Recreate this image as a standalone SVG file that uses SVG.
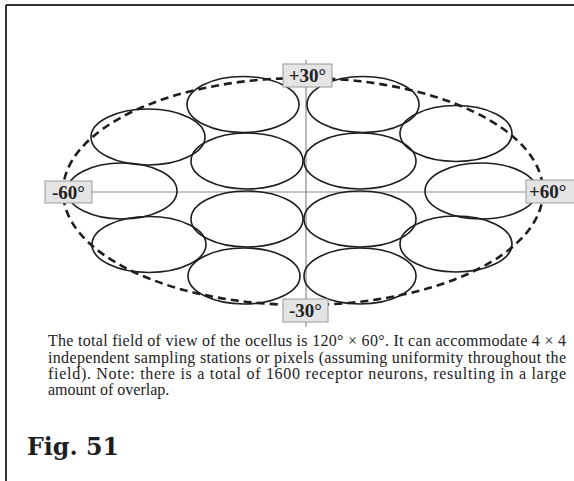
<svg xmlns="http://www.w3.org/2000/svg" width="574" height="481" viewBox="0 0 574 481">
<style>
.cell{fill:none;stroke:#1e1e1e;stroke-width:1.6}
.field{fill:none;stroke:#1e1e1e;stroke-width:2.6;stroke-dasharray:8 5}
.axis{stroke:#8a8a8a;stroke-width:1.2}
.box{fill:#e4e4e4;stroke:#9a9a9a;stroke-width:1}
.lab{font-family:"Liberation Serif",serif;font-weight:bold;font-size:19px;fill:#222}
.cap{font-family:"Liberation Serif",serif;font-size:16px;fill:#222}
.fig{font-family:"DejaVu Serif","Liberation Serif",serif;font-weight:bold;font-size:25px;fill:#1e1e1e}
</style>
<rect width="574" height="481" fill="#fff"/>
<path d="M6 5 H574 M6 5 V481" fill="none" stroke="#333" stroke-width="2"/>
<g id="connectors">
<line class="axis" x1="306" y1="60" x2="306" y2="327"/>
<line class="axis" x1="46" y1="192" x2="574" y2="192"/>
</g>
<g id="field"><ellipse class="field" cx="303" cy="191.5" rx="240" ry="113.5"/></g>
<g id="cells">
<ellipse id="c1" class="cell" cx="243" cy="104.5" rx="56" ry="28"/>
<ellipse id="c2" class="cell" cx="363" cy="104.5" rx="56" ry="28"/>
<ellipse id="c3" class="cell" cx="247" cy="161" rx="56" ry="28"/>
<ellipse id="c4" class="cell" cx="360" cy="161" rx="56" ry="28"/>
<ellipse id="c5" class="cell" cx="247" cy="219" rx="56" ry="28"/>
<ellipse id="c6" class="cell" cx="360" cy="219" rx="56" ry="28"/>
<ellipse id="c7" class="cell" cx="244" cy="276" rx="56" ry="28"/>
<ellipse id="c8" class="cell" cx="360" cy="276" rx="56" ry="28"/>
<ellipse id="c9" class="cell" cx="148" cy="137" rx="57" ry="28"/>
<ellipse id="c10" class="cell" cx="456" cy="133.5" rx="56" ry="28"/>
<ellipse id="c11" class="cell" cx="122" cy="191" rx="55" ry="28"/>
<ellipse id="c12" class="cell" cx="481" cy="191" rx="56" ry="28"/>
<ellipse id="c13" class="cell" cx="149" cy="244.5" rx="57" ry="28"/>
<ellipse id="c14" class="cell" cx="456" cy="244" rx="56" ry="28"/>
</g>
<g id="label-top"><rect class="box" x="283" y="64" width="49" height="23"/><text class="lab" x="307.5" y="82" text-anchor="middle">+30°</text></g>
<g id="label-bottom"><rect class="box" x="283" y="299" width="45" height="23"/><text class="lab" x="305.5" y="317" text-anchor="middle">-30°</text></g>
<g id="label-left"><rect class="box" x="45" y="181" width="47" height="22"/><text class="lab" x="68.5" y="198.5" text-anchor="middle">-60°</text></g>
<g id="label-right"><rect class="box" x="526" y="180" width="50" height="23"/><text class="lab" x="529" y="198">+60°</text></g>
<g id="caption">
<text class="cap" x="48" y="346" textLength="518" lengthAdjust="spacing">The total field of view of the ocellus is 120° × 60°. It can accommodate 4 × 4</text>
<text class="cap" x="48" y="363" textLength="518" lengthAdjust="spacing">independent sampling stations or pixels (assuming uniformity throughout the</text>
<text class="cap" x="48" y="379" textLength="518" lengthAdjust="spacing">field). Note: there is a total of 1600 receptor neurons, resulting in a large</text>
<text class="cap" x="48" y="395">amount of overlap.</text>
</g>
<text class="fig" x="27" y="455" textLength="92" lengthAdjust="spacingAndGlyphs">Fig. 51</text>
</svg>
